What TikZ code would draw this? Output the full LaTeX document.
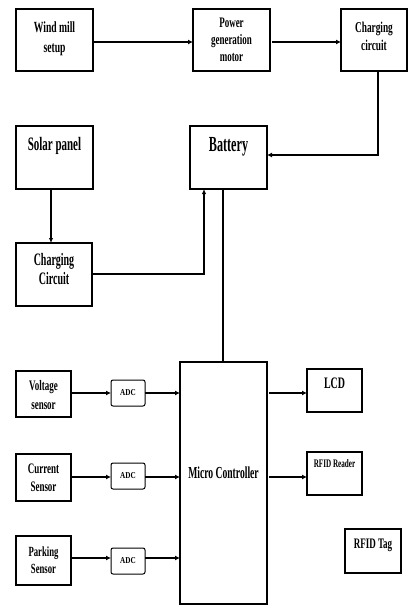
\documentclass[tikz,border=0pt]{standalone}
\usepackage{fontspec}
\setmainfont{Liberation Serif}
\usetikzlibrary{arrows.meta}
\newcommand\tx[5][0.62]{\scalebox{#1}[1]{\fontsize{#2}{#3}\selectfont#4\begin{tabular}{@{}c@{}}#5\end{tabular}}}
\begin{document}
\begin{tikzpicture}[x=1pt,y=-1pt,
  box/.style={draw,line width=1.1pt,inner sep=0pt,outer sep=0pt},
  adcbox/.style={draw,line width=1pt,rounded corners=2pt,inner sep=0pt,outer sep=0pt,minimum width=34,minimum height=26},
  txt/.style={inner sep=0pt},
  arr/.style={line width=1.6pt,-{Latex[length=5pt,width=5pt]}},
  thinarr/.style={line width=1.1pt,-{Latex[length=5pt,width=4.5pt]}},
  wire/.style={line width=1.1pt}]
\useasboundingbox (0,0) rectangle (408,605);
% boxes
\node[box,minimum width=77,minimum height=62] (wind) at (54.5,40) {};
\node[box,minimum width=77,minimum height=62] (power) at (231.5,40) {};
\node[box,minimum width=66,minimum height=62] (c1) at (374,40) {};
\node[box,minimum width=77,minimum height=63] (solar) at (54.5,157.5) {};
\node[box,minimum width=77,minimum height=63] (bat) at (228.5,157.5) {};
\node[box,minimum width=76,minimum height=63] (c2) at (54,274.5) {};
\node[box,minimum width=87,minimum height=242] (mc) at (223.5,483) {};
\node[box,minimum width=55,minimum height=46] (volt) at (43.5,394) {};
\node[box,minimum width=55,minimum height=47] (curr) at (43.5,477.5) {};
\node[box,minimum width=55,minimum height=49] (park) at (43.5,560.5) {};
\node[adcbox] (adc1) at (128,393) {};
\node[adcbox] (adc2) at (128,476) {};
\node[adcbox] (adc3) at (128,561) {};
\node[box,minimum width=55,minimum height=43] (lcd) at (334.5,390.5) {};
\node[box,minimum width=55,minimum height=43] (rfidr) at (334.5,473.5) {};
\node[box,minimum width=56,minimum height=44] (rfidt) at (373,551) {};
% texts
\node[txt] (t-wind) at (54.5,38) {\tx{15.5}{20}{\bfseries}{Wind mill\\setup}};
\node[txt] (t-power) at (231.5,41) {\tx{14.5}{17}{\bfseries}{Power\\generation\\motor}};
\node[txt] (t-c1) at (374,38) {\tx{15}{18.5}{\bfseries}{Charging\\circuit}};
\node[txt] (t-solar) at (54.5,146) {\tx[0.577]{19}{20}{\bfseries}{Solar panel}};
\node[txt] (t-bat) at (228.5,147) {\tx[0.567]{21.5}{22}{\bfseries}{Battery}};
\node[txt] (t-c2) at (54,271) {\tx[0.57]{17.5}{19}{\bfseries}{Charging\\Circuit}};
\node[txt] (t-mc) at (223.5,475) {\tx[0.573]{16.8}{18}{\bfseries}{Micro Controller}};
\node[txt] (t-volt) at (43.5,396) {\tx{14.5}{19}{\bfseries}{Voltage\\sensor}};
\node[txt] (t-curr) at (43.5,479) {\tx{14.5}{18}{\bfseries}{Current\\Sensor}};
\node[txt] (t-park) at (43.5,561.5) {\tx{14}{17}{\bfseries}{Parking\\Sensor}};
\node[txt] (t-adc1) at (adc1) {\scalebox{0.8}[1]{\fontsize{9}{10}\selectfont\bfseries ADC}};
\node[txt] (t-adc2) at (adc2) {\scalebox{0.8}[1]{\fontsize{9}{10}\selectfont\bfseries ADC}};
\node[txt] (t-adc3) at (adc3) {\scalebox{0.8}[1]{\fontsize{9}{10}\selectfont\bfseries ADC}};
\node[txt] (t-lcd) at (334.5,385) {\tx{16}{17}{\bfseries}{LCD}};
\node[txt] (t-rfidr) at (334.5,465) {\tx{11.5}{12}{\bfseries}{RFID Reader}};
\node[txt] (t-rfidt) at (373,545) {\tx{14.5}{15}{\bfseries}{RFID Tag}};
% connectors
\draw[arr] ([yshift=-2]wind.east) -- ([yshift=-2]power.west);
\draw[arr] ([xshift=2,yshift=-2]power.east) -- ([yshift=-2]c1.west);
\draw[arr] ([xshift=4]c1.south) |- ([yshift=2.5]bat.east);
\draw[thinarr] ([xshift=-3.5]solar.south) -- ([xshift=-3]c2.north);
\draw[thinarr] ([yshift=0.5]c2.east) -| ([xshift=-24.5]bat.south);
\draw[wire] ([xshift=-5.5]bat.south) -- ([xshift=-0.5]mc.north);
\draw[arr] (volt.east |- adc1.west) -- (adc1.west);
\draw[arr] (adc1.east) -- (mc.west |- adc1.east);
\draw[arr] ([xshift=2]mc.east |- adc1.east) -- (lcd.west |- adc1.east);
\draw[arr] ([yshift=-1]curr.east |- adc2.west) -- ([yshift=-1]adc2.west);
\draw[arr] ([yshift=-1]adc2.east) -- ([yshift=-1]mc.west |- adc2.east);
\draw[arr] ([xshift=2,yshift=-1]mc.east |- adc2.east) -- ([yshift=-1]rfidr.west |- adc2.east);
\draw[arr] ([yshift=3]park.east |- adc3.west) -- ([yshift=3]adc3.west);
\draw[arr] ([yshift=3]adc3.east) -- ([yshift=3]mc.west |- adc3.east);
\end{tikzpicture}
\end{document}
